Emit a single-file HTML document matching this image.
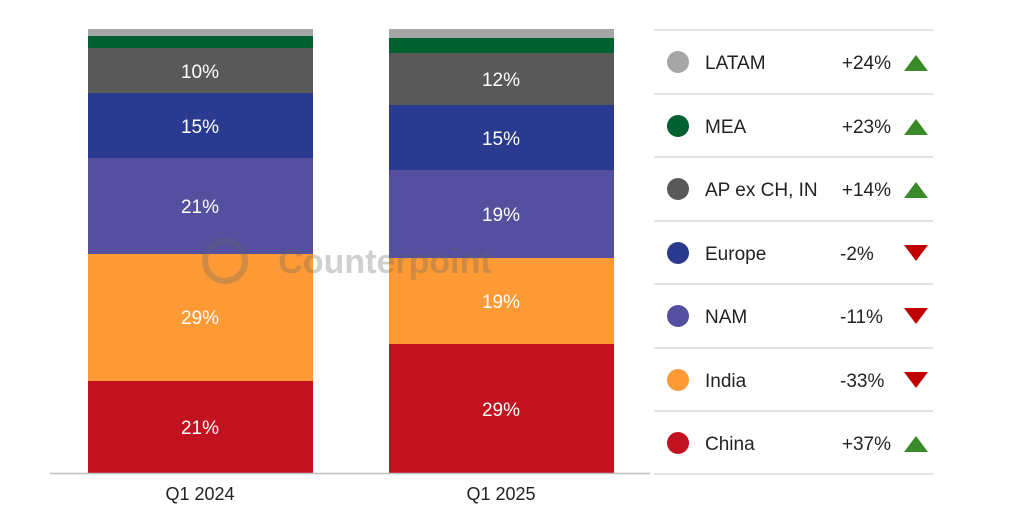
<!DOCTYPE html><html><head><style>body{margin:0;width:1024px;height:525px;background:#fff;overflow:hidden;font-family:"Liberation Sans",sans-serif}</style></head><body>
<svg width="1024" height="525" xmlns="http://www.w3.org/2000/svg" font-family="Liberation Sans, sans-serif">
<g>
<rect x="88" y="29" width="225" height="7" fill="#a6a6a6"/>
<rect x="88" y="36" width="225" height="12" fill="#00602f"/>
<rect x="88" y="48" width="225" height="45" fill="#595959"/>
<rect x="88" y="93" width="225" height="65" fill="#2a3b8f"/>
<rect x="88" y="158" width="225" height="96" fill="#544f9e"/>
<rect x="88" y="254" width="225" height="127" fill="#fd9a35"/>
<rect x="88" y="381" width="225" height="92" fill="#c3121f"/>
<rect x="389" y="29" width="225" height="9" fill="#a6a6a6"/>
<rect x="389" y="38" width="225" height="15" fill="#00602f"/>
<rect x="389" y="53" width="225" height="52" fill="#595959"/>
<rect x="389" y="105" width="225" height="65" fill="#2a3b8f"/>
<rect x="389" y="170" width="225" height="88" fill="#544f9e"/>
<rect x="389" y="258" width="225" height="86" fill="#fd9a35"/>
<rect x="389" y="344" width="225" height="129" fill="#c3121f"/>
</g>
<g fill="#fff" font-size="19" text-anchor="middle">
<text x="200" y="78">10%</text><text x="200" y="133">15%</text><text x="200" y="213">21%</text><text x="200" y="324">29%</text><text x="200" y="434">21%</text>
<text x="501" y="86">12%</text><text x="501" y="145">15%</text><text x="501" y="221">19%</text><text x="501" y="308">19%</text><text x="501" y="416">29%</text>
</g>
<g opacity="0.3"><circle cx="225" cy="261" r="20" fill="none" stroke="#666" stroke-width="6"/>
<text x="385" y="273" font-size="34" font-weight="bold" fill="#666" text-anchor="middle">Counterpoint</text></g>
<line x1="50" y1="473.5" x2="650" y2="473.5" stroke="#bfbfbf" stroke-width="1.5"/>
<g font-size="18" fill="#222" text-anchor="middle"><text x="200" y="500">Q1 2024</text><text x="501" y="500">Q1 2025</text></g>
<g stroke="#d9d9d9" stroke-width="1.5">
<line x1="654" y1="30" x2="933" y2="30"/><line x1="654" y1="94" x2="933" y2="94"/><line x1="654" y1="157" x2="933" y2="157"/><line x1="654" y1="221" x2="933" y2="221"/><line x1="654" y1="284" x2="933" y2="284"/><line x1="654" y1="348" x2="933" y2="348"/><line x1="654" y1="411" x2="933" y2="411"/><line x1="654" y1="474" x2="933" y2="474"/>
</g>
<g font-size="19" fill="#222">
<circle cx="678" cy="62" r="11" fill="#a6a6a6"/><text x="705" y="69">LATAM</text><text x="891" y="69" text-anchor="end">+24%</text><polygon points="904,71 928,71 916,55" fill="#3a8a2a"/>
<circle cx="678" cy="126" r="11" fill="#00602f"/><text x="705" y="133">MEA</text><text x="891" y="133" text-anchor="end">+23%</text><polygon points="904,135 928,135 916,119" fill="#3a8a2a"/>
<circle cx="678" cy="189" r="11" fill="#595959"/><text x="705" y="196">AP ex CH, IN</text><text x="891" y="196" text-anchor="end">+14%</text><polygon points="904,198 928,198 916,182" fill="#3a8a2a"/>
<circle cx="678" cy="253" r="11" fill="#2a3b8f"/><text x="705" y="260">Europe</text><text x="840" y="260">-2%</text><polygon points="904,245 928,245 916,261" fill="#c00000"/>
<circle cx="678" cy="316" r="11" fill="#544f9e"/><text x="705" y="323">NAM</text><text x="840" y="323">-11%</text><polygon points="904,308 928,308 916,324" fill="#c00000"/>
<circle cx="678" cy="380" r="11" fill="#fd9a35"/><text x="705" y="387">India</text><text x="840" y="387">-33%</text><polygon points="904,372 928,372 916,388" fill="#c00000"/>
<circle cx="678" cy="443" r="11" fill="#c3121f"/><text x="705" y="450">China</text><text x="891" y="450" text-anchor="end">+37%</text><polygon points="904,452 928,452 916,436" fill="#3a8a2a"/>
</g>
</svg></body></html>
